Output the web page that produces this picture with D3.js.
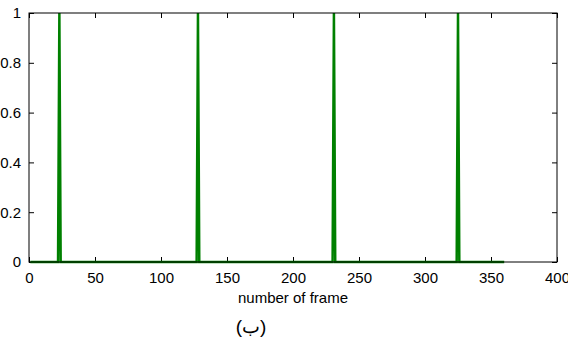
<!DOCTYPE html>
<html>
<head>
<meta charset="utf-8">
<script src="https://cdn.jsdelivr.net/npm/d3@7"></script>
<style>
  body { margin: 0; background: #fff; }
  svg { display: block; font-family: Arial, "Liberation Sans", sans-serif; }
</style>
</head>
<body>
<svg id="chart" width="568" height="340"></svg>
<script>
var width = 568;
var height = 340;
var margin = {top: 13, right: 11, bottom: 78, left: 29};

// break points of the detection signal (frame number, value)
var frames = [1, 22, 23, 24, 127, 128, 129, 230, 231, 232, 324, 325, 326, 360];
var values = [0, 0, 1, 0, 0, 1, 0, 0, 1, 0, 0, 1, 0, 0];

var xTicks = [0, 50, 100, 150, 200, 250, 300, 350, 400];
var yTicks = [0, 0.2, 0.4, 0.6, 0.8, 1];
var xLabel = "number of frame";
var caption = "(ب)";

var points = frames.map(function(f, i) { return [f, values[i]]; });

var svg = d3.select("#chart");
var plotW = width - margin.left - margin.right;
var plotH = height - margin.top - margin.bottom;

var x = d3.scaleLinear().domain([0, 400]).range([0, plotW]);
var y = d3.scaleLinear().domain([0, 1]).range([plotH, 0]);

var g = svg.append("g")
    .attr("transform", "translate(" + margin.left + "," + margin.top + ")");

// matlab style: ticks pointing inward on all four sides
var tickLen = 5;
function styleAxis(sel) {
    sel.select(".domain").remove();
    sel.selectAll("line").attr("stroke", "#000").attr("stroke-width", 1);
    sel.selectAll("text").attr("fill", "#000").style("font-size", "15px");
}

g.append("g")
    .attr("transform", "translate(0," + plotH + ")")
    .call(d3.axisBottom(x).tickValues(xTicks).tickSizeInner(-tickLen).tickSizeOuter(0).tickPadding(10))
    .call(styleAxis);

g.append("g")
    .call(d3.axisTop(x).tickValues(xTicks).tickSizeInner(-tickLen).tickSizeOuter(0).tickFormat(""))
    .call(styleAxis);

g.append("g")
    .call(d3.axisLeft(y).tickValues(yTicks).tickSizeInner(-tickLen).tickSizeOuter(0)
        .tickPadding(8).tickFormat(d3.format("~g")))
    .call(styleAxis);

g.append("g")
    .attr("transform", "translate(" + plotW + ",0)")
    .call(d3.axisRight(y).tickValues(yTicks).tickSizeInner(-tickLen).tickSizeOuter(0).tickFormat(""))
    .call(styleAxis);

// the signal
var line = d3.line()
    .x(function(d) { return x(d[0]); })
    .y(function(d) { return y(d[1]); });

g.append("path")
    .datum(points)
    .attr("d", line)
    .attr("fill", "none")
    .attr("stroke", "#008000")
    .attr("stroke-width", 2.5)
    .attr("stroke-linejoin", "miter");

// box
g.append("rect")
    .attr("width", plotW)
    .attr("height", plotH)
    .attr("fill", "none")
    .attr("stroke", "#000")
    .attr("stroke-width", 1);

svg.append("text")
    .attr("x", margin.left + plotW / 2)
    .attr("y", 303)
    .attr("text-anchor", "middle")
    .style("font-size", "15px")
    .text(xLabel);

svg.append("text")
    .attr("x", 251)
    .attr("y", 333)
    .attr("text-anchor", "middle")
    .style("font-size", "19px")
    .text(caption);
</script>
</body>
</html>
